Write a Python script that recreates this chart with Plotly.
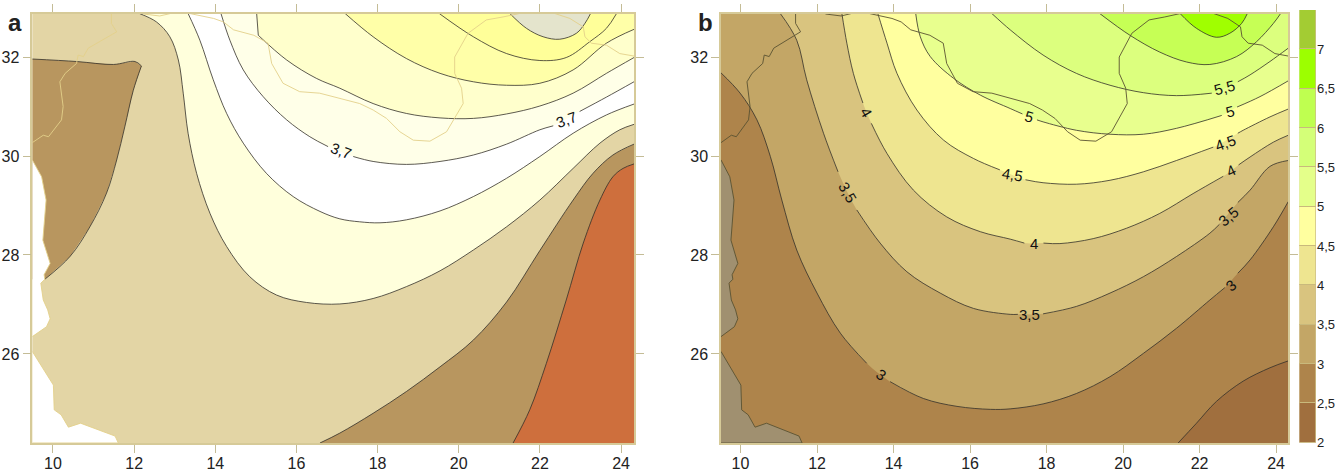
import plotly.graph_objects as go

# ---------- map extent and ticks ----------
LON_RANGE = [9.49, 24.32]
LAT_RANGE = [24.2, 32.88]
LON_TICKS = [10, 12, 14, 16, 18, 20, 22, 24]
LAT_TICKS = [26, 28, 30, 32]

# ---------- geography (lon, lat) ----------
OCEAN1_LON = [9.49, 9.72, 9.83, 9.75, 9.93, 9.78, 9.80, 9.70, 9.76, 9.87, 9.93, 9.84, 9.49]
OCEAN1_LAT = [29.92, 29.58, 29.11, 28.30, 27.83, 27.60, 27.51, 27.43, 27.09, 26.89, 26.71, 26.55, 26.35]
OCEAN2_LON = [9.49, 10.01, 10.03, 10.20, 10.38, 10.68, 11.53, 11.61, 9.49]
OCEAN2_LAT = [26.05, 25.37, 24.87, 24.77, 24.52, 24.60, 24.34, 24.20, 24.20]
BORDER1_LON = [11.44, 11.44, 11.57, 11.16, 10.87, 10.75, 10.62, 10.58, 10.30, 10.17, 10.25, 10.21, 9.89, 9.76, 9.49]
BORDER1_LAT = [32.88, 32.68, 32.51, 32.31, 32.18, 32.01, 32.04, 31.87, 31.67, 31.50, 31.00, 30.73, 30.39, 30.42, 30.27]
BORDER2_LON = [12.22, 12.63, 12.95, 13.37, 13.96, 14.20, 14.45, 14.95, 15.30, 15.39, 15.67, 16.08, 16.57, 17.07, 17.56,
               17.89, 18.22, 18.55, 18.88, 19.29, 19.70, 20.11, 20.07, 19.90, 19.90, 20.23, 20.68, 21.09, 21.50]
BORDER2_LAT = [32.87, 32.83, 32.89, 32.88, 32.78, 32.71, 32.55, 32.44, 32.28, 31.87, 31.47, 31.30, 31.27, 31.17, 31.06,
               30.93, 30.76, 30.49, 30.32, 30.30, 30.49, 31.06, 31.37, 31.67, 32.00, 32.48, 32.75, 32.81, 32.88]
BORDER3_LON = [22.37, 22.74, 23.07, 23.11, 23.27, 23.64, 23.97, 24.32]
BORDER3_LAT = [32.88, 32.78, 32.61, 32.41, 32.28, 32.24, 32.07, 32.02]

# ---------- panel a isolines ----------
A_SE1_LON = [16.58, 17.07, 17.89, 18.71, 19.54, 20.36, 21.18, 22.00, 22.82, 23.31, 23.80, 24.32]
A_SE1_LAT = [24.20, 24.40, 24.80, 25.24, 25.74, 26.28, 27.05, 28.09, 29.11, 29.65, 30.02, 30.24]
A_SE2_LON = [21.34, 21.75, 22.16, 22.65, 23.07, 23.48, 23.80, 24.05, 24.32]
A_SE2_LAT = [24.20, 24.87, 25.81, 27.09, 28.24, 29.11, 29.58, 29.75, 29.84]
A_WEST_LON = [9.49, 10.58, 11.49, 12.02, 12.18, None, 12.18, 11.98, 11.77, 11.57, 11.32, 10.91, 10.42, 9.80]
A_WEST_LAT = [31.96, 31.91, 31.85, 31.91, 31.82, None, 31.82, 31.33, 30.59, 29.92, 29.25, 28.57, 27.97, 27.51]
A1_LON = [12.13, 12.55, 12.88, 13.09, 13.21, 13.33, 13.54, 13.87, 14.28, 14.85, 15.51, 16.25, 17.07, 17.89, 18.71, 19.54,
          20.36, 21.18, 22.00, 22.82, 23.48, 23.97, 24.32]
A1_LAT = [32.88, 32.71, 32.41, 31.94, 31.27, 30.46, 29.65, 28.84, 28.17, 27.56, 27.19, 27.04, 27.01, 27.12, 27.36, 27.68,
          28.10, 28.57, 29.11, 29.75, 30.26, 30.53, 30.64]
A2_LON = [13.33, 13.62, 13.95, 14.28, 14.69, 15.26, 15.92, 16.58, 17.07, 17.56, 18.06, 18.71, 19.54, 20.36, 21.18, 22.00,
          22.82, 23.64, 24.32]
A2_LAT = [32.88, 32.34, 31.54, 30.86, 30.26, 29.65, 29.18, 28.88, 28.73, 28.67, 28.65, 28.71, 28.89, 29.18, 29.55, 29.99,
          30.46, 30.83, 31.05]
A3_LON = [14.14, 14.36, 14.69, 15.18, 15.76, 16.33, 16.78, None, 17.40, 17.89, 18.71, 19.54, 20.36, 21.18, 22.00, 22.33,
          None, 22.98, 23.64, 24.32]
A3_LAT = [32.88, 32.34, 31.74, 31.20, 30.73, 30.39, 30.19, None, 29.99, 29.89, 29.83, 29.89, 30.02, 30.24, 30.53, 30.61,
          None, 30.90, 31.19, 31.50]
A4_LON = [15.02, 15.06, None, 15.06, 15.76, 16.49, 17.07, 17.89, 18.71, 19.54, 20.36, 21.18, 22.00, 22.82, 23.64, 24.32]
A4_LAT = [32.88, 32.44, None, 32.44, 31.94, 31.57, 31.37, 31.06, 30.86, 30.77, 30.76, 30.85, 31.01, 31.27, 31.67, 31.99]
A5_LON = [17.20, 17.89, 18.71, 19.54, 20.36, 21.18, 22.00, 22.82, 23.64, 24.32]
A5_LAT = [32.88, 32.41, 31.97, 31.67, 31.50, 31.43, 31.47, 31.74, 32.28, 32.56]
A6_LON = [19.52, 20.36, 21.18, 22.00, 22.65, 23.23, 23.64, 23.89]
A6_LAT = [32.88, 32.41, 32.07, 31.93, 31.99, 32.31, 32.58, 32.88]
A7_LON = [21.26, 21.67, 22.08, 22.49, 22.90, 23.11, 23.25]
A7_LAT = [32.88, 32.58, 32.41, 32.36, 32.48, 32.68, 32.88]

A_BASE = "#E3D5A5"
A_OCEAN = "#FFFFFF"
A_SE1_COLOR = "#B8965F"
A_SE2_COLOR = "#CE6F3D"
A_BAND_COLORS = ["#FFFFDC", "#FFFFFF", "#FFFFE8", "#FFFFCC", "#FFFFA8", "#FFFF99", "#E4E4CC"]
A_LABELS = ["3,7", "3,7"]
A_LABEL_LON = [17.10, 22.65]
A_LABEL_LAT = [30.12, 30.74]
A_LABEL_ANGLE = [20, -20]

# ---------- panel b isolines ----------
B25_LON = [21.44, 21.92, 22.44, 23.14, 23.84, 24.32]
B25_LAT = [24.20, 24.60, 25.04, 25.45, 25.72, 25.86]
B30_LON = [9.49, 9.99, 10.43, 10.78, 11.08, 11.47, 12.00, 12.61, 13.30, None, 13.91, 14.78, 15.66, 16.53, 17.05, 17.91,
           18.78, 19.66, 20.53, 21.40, 22.27, 22.66, None, 23.00, 23.32, 23.93, 24.32]
B30_LAT = [31.68, 31.27, 30.73, 29.99, 29.11, 28.10, 27.23, 26.42, 25.81, None, 25.44, 25.10, 24.94, 24.88, 24.89, 24.99,
           25.20, 25.54, 26.01, 26.52, 27.09, 27.34, None, 27.63, 27.90, 28.57, 29.08]
B35_LON = [11.04, 11.47, 11.73, 12.17, 12.55, None, 13.04, 13.65, 14.35, 15.22, 16.09, 17.05, 17.25, None, 17.91, 18.78,
           19.66, 20.53, 21.40, 22.27, 22.52, None, 23.00, 23.32, 23.84, 24.32]
B35_LAT = [32.88, 32.34, 31.54, 30.46, 29.68, None, 28.91, 28.24, 27.66, 27.23, 26.92, 26.80, 26.80, None, 26.81, 26.96,
           27.23, 27.56, 27.97, 28.44, 28.62, None, 29.06, 29.31, 29.79, 29.91]
B40_LON = [12.65, 12.78, 12.95, 13.20, None, 13.42, 13.83, 14.52, 15.39, 16.27, 17.05, 17.42, None, 17.92, 18.35, 19.22,
           20.09, 20.96, 21.83, 22.62, None, 23.02, 23.32, 23.93, 24.32]
B40_LAT = [32.88, 32.28, 31.67, 31.07, None, 30.66, 30.05, 29.31, 28.77, 28.47, 28.32, 28.24, None, 28.24, 28.23, 28.33,
           28.54, 28.84, 29.24, 29.59, None, 29.82, 29.98, 30.28, 30.42]
B45_LON = [13.59, 13.83, 14.09, 14.61, 15.31, 16.09, 16.78, None, 17.45, 17.91, 18.78, 19.66, 20.53, 21.40, 22.36, None,
           23.00, 23.14, 23.84, 24.32]
B45_LAT = [32.88, 32.28, 31.67, 30.93, 30.32, 29.95, 29.72, None, 29.52, 29.46, 29.43, 29.51, 29.68, 29.91, 30.18, None,
           30.46, 30.52, 30.79, 30.95]
B50_LON = [14.58, 14.70, 14.96, 15.57, 16.27, 17.05, 17.37, None, 17.75, 17.91, 18.78, 19.66, 20.53, 21.40, 22.58, None,
           22.98, 23.58, 24.32]
B50_LAT = [32.88, 32.41, 32.01, 31.57, 31.23, 30.96, 30.85, None, 30.73, 30.69, 30.52, 30.44, 30.44, 30.56, 30.82, None,
           30.99, 31.20, 31.52]
B55_LON = [16.57, 17.05, 17.91, 18.78, 19.66, 20.53, 21.40, 22.32, None, 23.00, 23.32, 23.84, 24.32]
B55_LAT = [32.88, 32.55, 32.04, 31.67, 31.43, 31.28, 31.22, 31.27, None, 31.50, 31.64, 31.91, 32.18]
B60_LON = [19.39, 20.18, 20.96, 21.66, 22.27, 22.97, 23.49, 23.93, 24.12]
B60_LAT = [32.88, 32.44, 32.10, 31.90, 31.85, 32.01, 32.31, 32.68, 32.88]
B65_LON = [21.49, 21.92, 22.44, 22.79, 23.10, 23.25]
B65_LAT = [32.88, 32.58, 32.40, 32.48, 32.68, 32.88]

B_BASE = "#AE844B"
B_OCEAN = "#A09070"
B_SE_COLOR = "#A06F3E"
B_BAND_COLORS = ["#C3A666", "#D9C47F", "#EEE590", "#FFFF9F", "#E8FF8E", "#DCFF7E", "#C6FF55", "#A0FF00"]
B_LABELS = ["4", "3,5", "3", "5,5", "5", "4,5", "4", "3,5", "3", "3,5", "4", "5", "4,5"]
B_LABEL_LON = [13.29, 12.80, 13.67, 22.66, 22.79, 22.69, 22.82, 22.75, 22.82, 17.55, 17.68, 17.55, 17.10]
B_LABEL_LAT = [30.88, 29.26, 25.58, 31.39, 30.89, 30.27, 29.70, 28.78, 27.38, 26.80, 28.24, 30.79, 29.63]
B_LABEL_ANGLE = [60, 60, 35, -15, -15, -20, -25, -40, -40, 0, 0, 15, 10]

# ---------- colour bar ----------
LEVELS = [2, 2.5, 3, 3.5, 4, 4.5, 5, 5.5, 6, 6.5, 7]
LEVEL_TEXT = ["2", "2,5", "3", "3,5", "4", "4,5", "5", "5,5", "6", "6,5", "7"]
LEVEL_STEP = [0.5] * 11
LEVEL_COLORS = ["#A06F3E", "#AE844B", "#C3A666", "#D9C47F", "#EEE590", "#FFFF9F", "#E4FF8A", "#D4FF78", "#BFFF50",
                "#9CFF00", "#A3CC33"]

W, H = 1343, 473
FRAME = "#D6CA98"
TICKC = "#C4BC96"
SANS = "Liberation Sans, Arial, sans-serif"
FAR_NE = [(26, 34)]
FAR_NW = [(26, 34), (8, 34)]
FAR_SE = [(26, 23)]


def clean(v):
    return [p for p in v if p is not None]


def extend(xs, ys):
    dx0, dy0 = xs[0] - xs[1], ys[0] - ys[1]
    dx1, dy1 = xs[-1] - xs[-2], ys[-1] - ys[-2]
    return ([xs[0] + dx0 * 0.6] + xs + [xs[-1] + dx1 * 0.6], [ys[0] + dy0 * 0.6] + ys + [ys[-1] + dy1 * 0.6])


fig = go.Figure()


def band(lon, lat, color, far, xa, ya, line="#33302A"):
    xs, ys = extend(clean(lon), clean(lat))
    xs = xs + [p[0] for p in far]
    ys = ys + [p[1] for p in far]
    fig.add_trace(go.Scatter(x=xs, y=ys, mode="lines", fill="toself", fillcolor=color,
                             line=dict(width=0, shape="spline", color=color), xaxis=xa, yaxis=ya,
                             hoverinfo="skip", showlegend=False))
    isoline(lon, lat, xa, ya, line)


def isoline(lon, lat, xa, ya, line="#33302A"):
    fig.add_trace(go.Scatter(x=lon, y=lat, mode="lines", line=dict(width=0.8, shape="spline", color=line),
                             xaxis=xa, yaxis=ya, hoverinfo="skip", showlegend=False))


def geography(ocean, coast, xa, ya):
    for lon, lat in [(OCEAN1_LON, OCEAN1_LAT), (OCEAN2_LON, OCEAN2_LAT)]:
        fig.add_trace(go.Scatter(x=lon, y=lat, mode="lines", fill="toself", fillcolor=ocean,
                                 line=dict(width=0.9, color=coast), xaxis=xa, yaxis=ya,
                                 hoverinfo="skip", showlegend=False))
    for lon, lat in [(BORDER1_LON, BORDER1_LAT), (BORDER2_LON, BORDER2_LAT), (BORDER3_LON, BORDER3_LAT)]:
        fig.add_trace(go.Scatter(x=lon, y=lat, mode="lines", line=dict(width=0.9, color=coast),
                                 xaxis=xa, yaxis=ya, hoverinfo="skip", showlegend=False))


# panel a
band(A_SE1_LON, A_SE1_LAT, A_SE1_COLOR, FAR_SE, "x", "y")
band(A_SE2_LON, A_SE2_LAT, A_SE2_COLOR, FAR_SE, "x", "y")
fig.add_trace(go.Scatter(x=clean(A_WEST_LON) + [9.49], y=clean(A_WEST_LAT) + [27.51], mode="lines", fill="toself",
                         fillcolor=A_SE1_COLOR, line=dict(width=0), xaxis="x", yaxis="y",
                         hoverinfo="skip", showlegend=False))
isoline(A_WEST_LON, A_WEST_LAT, "x", "y")
a_curves = [(A1_LON, A1_LAT, FAR_NE), (A2_LON, A2_LAT, FAR_NE), (A3_LON, A3_LAT, FAR_NE), (A4_LON, A4_LAT, FAR_NE),
            (A5_LON, A5_LAT, FAR_NE), (A6_LON, A6_LAT, []), (A7_LON, A7_LAT, [])]
for (lon, lat, far), col in zip(a_curves, A_BAND_COLORS):
    band(lon, lat, col, far, "x", "y")
geography(A_OCEAN, "#E3D08A", "x", "y")

# panel b
band(B25_LON, B25_LAT, B_SE_COLOR, FAR_SE, "x2", "y2")
b_curves = [(B30_LON, B30_LAT, FAR_NW), (B35_LON, B35_LAT, FAR_NE), (B40_LON, B40_LAT, FAR_NE),
            (B45_LON, B45_LAT, FAR_NE), (B50_LON, B50_LAT, FAR_NE), (B55_LON, B55_LAT, FAR_NE),
            (B60_LON, B60_LAT, []), (B65_LON, B65_LAT, [])]
for (lon, lat, far), col in zip(b_curves, B_BAND_COLORS):
    band(lon, lat, col, far, "x2", "y2")
geography(B_OCEAN, "#5A5232", "x2", "y2")

# colour bar
fig.add_trace(go.Bar(x=[0.5] * len(LEVELS), y=LEVEL_STEP, base=LEVELS, width=1, marker=dict(
    color=LEVEL_COLORS, line=dict(color="#C9B97C", width=1)), xaxis="x3", yaxis="y3",
    hoverinfo="skip", showlegend=False))

annos = []
for txt, lon, lat, ang in zip(A_LABELS, A_LABEL_LON, A_LABEL_LAT, A_LABEL_ANGLE):
    annos.append(dict(x=lon, y=lat, xref="x", yref="y", text=txt, textangle=ang, showarrow=False,
                      font=dict(family=SANS, size=15, color="#111111")))
for txt, lon, lat, ang in zip(B_LABELS, B_LABEL_LON, B_LABEL_LAT, B_LABEL_ANGLE):
    annos.append(dict(x=lon, y=lat, xref="x2", yref="y2", text=txt, textangle=ang, showarrow=False,
                      font=dict(family=SANS, size=15, color="#111111")))
annos.append(dict(x=15 / W, y=1 - 23 / H, xref="paper", yref="paper", text="<b>a</b>", showarrow=False,
                  xanchor="center", yanchor="middle", font=dict(family=SANS, size=24, color="#222222")))
annos.append(dict(x=705 / W, y=1 - 23 / H, xref="paper", yref="paper", text="<b>b</b>", showarrow=False,
                  xanchor="center", yanchor="middle", font=dict(family=SANS, size=24, color="#222222")))


def xaxis(dom, anchor):
    return dict(domain=dom, range=LON_RANGE, tickvals=LON_TICKS, ticks="outside", ticklen=8, tickcolor=TICKC,
                tickwidth=1, showline=True, mirror="ticks", linecolor=FRAME, linewidth=1.5, showgrid=False,
                zeroline=False, tickfont=dict(family=SANS, size=16, color="#222222"), anchor=anchor,
                automargin=False, ticklabelstandoff=-3)


def yaxis(anchor):
    return dict(domain=[1 - 443 / H, 1 - 13.5 / H], range=LAT_RANGE, tickvals=LAT_TICKS, ticks="outside", ticklen=8,
                tickcolor=TICKC, tickwidth=1, showline=True, mirror="ticks", linecolor=FRAME, linewidth=1.5,
                showgrid=False, zeroline=False, tickfont=dict(family=SANS, size=16, color="#222222"),
                anchor=anchor, automargin=False)


fig.update_layout(
    width=W, height=H, autosize=False, margin=dict(l=0, r=0, t=0, b=0, autoexpand=False), paper_bgcolor="white",
    plot_bgcolor="white", showlegend=False, annotations=annos, bargap=0,
    xaxis=xaxis([32.3 / W, 634 / W], "y"), yaxis=yaxis("x"),
    xaxis2=xaxis([721 / W, 1288.3 / W], "y2"), yaxis2=yaxis("x2"),
    xaxis3=dict(domain=[1299.3 / W, 1316 / W], range=[0, 1], visible=False, anchor="y3", automargin=False),
    yaxis3=dict(domain=[1 - 442.7 / H, 1 - 10 / H], range=[2, 7.5], anchor="x3", side="right", tickvals=LEVELS,
                ticktext=LEVEL_TEXT, ticks="", showgrid=False, zeroline=False, showline=False, automargin=False,
                tickfont=dict(family=SANS, size=13, color="#222222")),
    shapes=[
        dict(type="rect", xref="x domain", yref="y domain", x0=0, x1=1, y0=0, y1=1, fillcolor=A_BASE,
             line_width=0, layer="below"),
        dict(type="rect", xref="x2 domain", yref="y2 domain", x0=0, x1=1, y0=0, y1=1, fillcolor=B_BASE,
             line_width=0, layer="below"),
    ],
)
fig.write_html("out.html", config={"displayModeBar": False},
               post_script="document.body.style.margin='0';document.body.style.overflow='hidden';")
